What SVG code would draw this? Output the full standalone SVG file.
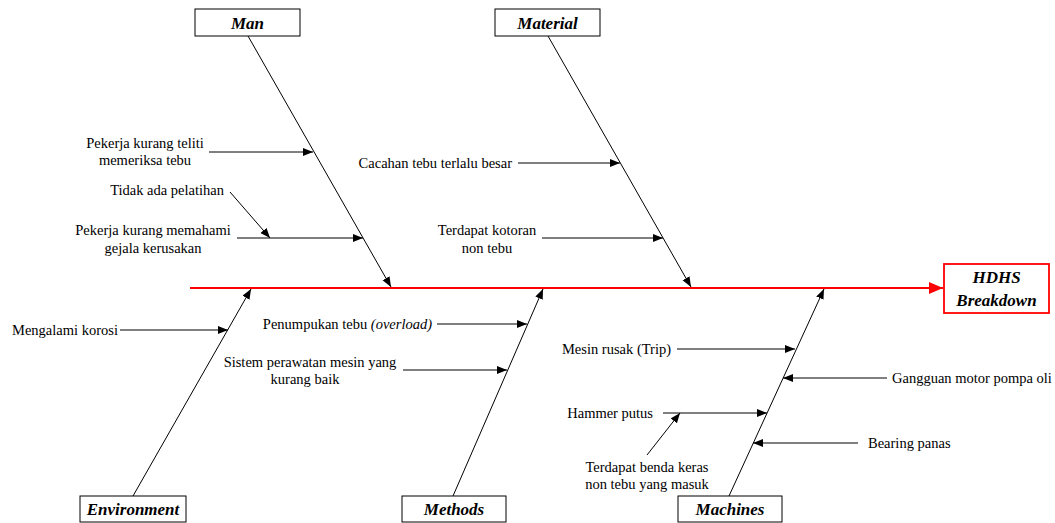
<svg xmlns="http://www.w3.org/2000/svg" width="1055" height="523" viewBox="0 0 1055 523">
<style>
.lbl{font-family:"Liberation Serif","Times New Roman",serif;font-size:14.5px;fill:#000}
.ttl{font-family:"Liberation Serif","Times New Roman",serif;font-size:17px;font-weight:bold;font-style:italic;fill:#000;text-anchor:middle}
.box{fill:#fff;stroke:#000;stroke-width:1}
.ln{stroke:#000;stroke-width:1;fill:none;marker-end:url(#ah)}
.mid{text-anchor:middle}
.end{text-anchor:end}
</style>
<defs>
<marker id="ah" markerUnits="userSpaceOnUse" markerWidth="12" markerHeight="10" refX="10" refY="4" orient="auto">
<path d="M0,0 L10,4 L0,8 Z" fill="#000"/>
</marker>
<marker id="ahr" markerUnits="userSpaceOnUse" markerWidth="16" markerHeight="14" refX="14" refY="6" orient="auto">
<path d="M0,0 L14,6 L0,12 Z" fill="#f00"/>
</marker>
</defs>
<rect width="1055" height="523" fill="#fff"/>
<g id="connectors">
<line x1="190" y1="288" x2="943" y2="288" stroke="#f00" stroke-width="1.8" marker-end="url(#ahr)"/>
<line class="ln" x1="248" y1="36" x2="391" y2="287"/>
<line class="ln" x1="548" y1="36" x2="691" y2="287"/>
<line class="ln" x1="133" y1="496" x2="251" y2="289"/>
<line class="ln" x1="453" y1="496" x2="543" y2="289"/>
<line class="ln" x1="729" y1="496" x2="824" y2="289"/>
<line class="ln" x1="209" y1="152" x2="313" y2="152"/>
<line class="ln" x1="237" y1="238" x2="363" y2="238"/>
<line class="ln" x1="230" y1="192" x2="270" y2="238"/>
<line class="ln" x1="518" y1="163" x2="620" y2="163"/>
<line class="ln" x1="542" y1="238" x2="663" y2="238"/>
<line class="ln" x1="120" y1="330" x2="228" y2="330"/>
<line class="ln" x1="437" y1="324" x2="527" y2="324"/>
<line class="ln" x1="403" y1="370" x2="507" y2="370"/>
<line class="ln" x1="677" y1="349" x2="795" y2="349"/>
<line class="ln" x1="887" y1="378" x2="783" y2="378"/>
<line class="ln" x1="663" y1="413" x2="767" y2="413"/>
<line class="ln" x1="647" y1="455" x2="680" y2="413"/>
<line class="ln" x1="858" y1="443" x2="753" y2="443"/>
</g>
<g id="man"><rect class="box" x="195" y="9" width="105" height="27"/><text class="ttl" x="247.5" y="28.5">Man</text></g>
<g id="material"><rect class="box" x="495" y="9" width="105" height="27"/><text class="ttl" x="547.5" y="28.5">Material</text></g>
<g id="environment"><rect class="box" x="80" y="496" width="106" height="26"/><text class="ttl" x="133" y="515">Environment</text></g>
<g id="methods"><rect class="box" x="402" y="496" width="104" height="26"/><text class="ttl" x="454" y="515">Methods</text></g>
<g id="machines"><rect class="box" x="678" y="496" width="104" height="26"/><text class="ttl" x="730" y="515">Machines</text></g>
<g id="hdhs"><rect x="944" y="264" width="105" height="49" fill="#fff" stroke="#f00" stroke-width="1.8"/><text class="ttl" x="996.5" y="283">HDHS</text><text class="ttl" x="996.5" y="306">Breakdown</text></g>
<g id="causes">
<text class="lbl mid" x="145" y="148">Pekerja kurang teliti</text>
<text class="lbl mid" x="145" y="165">memeriksa tebu</text>
<text class="lbl end" x="224" y="195">Tidak ada pelatihan</text>
<text class="lbl mid" x="153" y="235">Pekerja kurang memahami</text>
<text class="lbl mid" x="153" y="253">gejala kerusakan</text>
<text class="lbl end" x="512" y="168">Cacahan tebu terlalu besar</text>
<text class="lbl mid" x="487" y="235">Terdapat kotoran</text>
<text class="lbl mid" x="487" y="253">non tebu</text>
<text class="lbl" x="12" y="335">Mengalami korosi</text>
<text class="lbl end" x="432" y="329">Penumpukan tebu <tspan font-style="italic">(overload)</tspan></text>
<text class="lbl mid" x="310" y="367">Sistem perawatan mesin yang</text>
<text class="lbl mid" x="305" y="384">kurang baik</text>
<text class="lbl end" x="671" y="354">Mesin rusak (Trip)</text>
<text class="lbl" x="892" y="383">Gangguan motor pompa oli</text>
<text class="lbl end" x="653" y="418">Hammer putus</text>
<text class="lbl mid" x="647" y="472">Terdapat benda keras</text>
<text class="lbl mid" x="647" y="489">non tebu yang masuk</text>
<text class="lbl" x="868" y="448">Bearing panas</text>
</g>
</svg>
